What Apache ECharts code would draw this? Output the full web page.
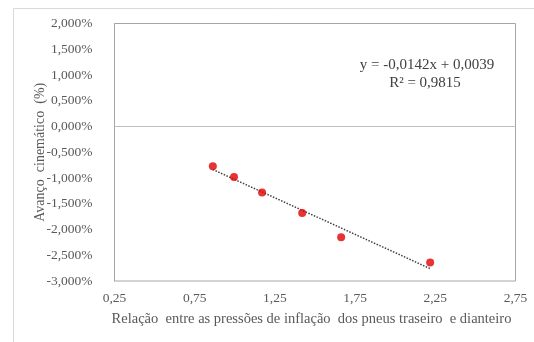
<!DOCTYPE html>
<html>
<head>
<meta charset="utf-8">
<script src="https://cdn.jsdelivr.net/npm/echarts@6/dist/echarts.min.js"></script>
<style>
html,body{margin:0;padding:0;background:#fff;}
#chart{width:534px;height:342px;}
</style>
</head>
<body>
<div id="chart"></div>
<script>
// Data (y in %)
var pressureRatio = [0.863, 0.995, 1.170, 1.420, 1.663, 2.218];
var kinematicAdvance = [-0.77, -0.98, -1.28, -1.68, -2.15, -2.64];
// Trendline coefficients (fraction units, as shown in equation)
var trendSlope = -0.0142;
var trendIntercept = 0.0039;
var trendText = ['y = -0,0142x + 0,0039', 'R² = 0,9815'];
var xTickLabels = ['0,25', '0,75', '1,25', '1,75', '2,25', '2,75'];
var yTickLabels = ['2,000%', '1,500%', '1,000%', '0,500%', '0,000%', '-0,500%', '-1,000%', '-1,500%', '-2,000%', '-2,500%', '-3,000%'];
var xTitle = 'Relação  entre as pressões de inflação  dos pneus traseiro  e dianteiro';
var yTitle = 'Avanço  cinemático  (%)';

var points = pressureRatio.map(function (x, i) { return [x, kinematicAdvance[i]]; });
var xStart = pressureRatio[0], xEnd = pressureRatio[pressureRatio.length - 1];
var trend = [
  [xStart, (trendSlope * xStart + trendIntercept) * 100],
  [xEnd, (trendSlope * xEnd + trendIntercept) * 100]
];

var font = 'Liberation Serif';
var chart = echarts.init(document.getElementById('chart'), null, {renderer: 'canvas'});
chart.setOption({
  animation: false,
  backgroundColor: '#fff',
  grid: {
    left: 114.5, top: 23.5, right: 18.5, bottom: 61,
    show: true, borderColor: '#a6a6a6', borderWidth: 1, containLabel: false
  },
  xAxis: {
    type: 'value', min: 0.25, max: 2.75, interval: 0.25,
    axisLine: {show: true, lineStyle: {color: '#a6a6a6'}},
    axisTick: {show: false},
    splitLine: {show: false},
    axisLabel: {
      margin: 10, color: '#595959', fontFamily: font, fontSize: 13.5,
      formatter: function (v) {
        var k = Math.round((v - 0.25) / 0.5 * 1000) / 1000;
        if (Math.abs(k - Math.round(k)) > 1e-6) return '';
        return xTickLabels[Math.round(k)] || '';
      }
    },
    name: xTitle, nameLocation: 'middle', nameGap: 31, nameMoveOverlap: false,
    nameTextStyle: {color: '#595959', fontFamily: font, fontSize: 14.5, padding: [0, 7, 0, 0]}
  },
  yAxis: {
    type: 'value', min: -3, max: 2, interval: 0.5,
    axisLine: {show: true, lineStyle: {color: '#a6a6a6'}},
    axisTick: {show: false},
    splitLine: {show: false},
    axisLabel: {
      margin: 22, color: '#595959', fontFamily: font, fontSize: 13.5,
      formatter: function (v) {
        var idx = Math.round((2 - v) / 0.5);
        return yTickLabels[idx] || '';
      }
    },
    name: yTitle, nameLocation: 'middle', nameGap: 67, nameMoveOverlap: false,
    nameTextStyle: {color: '#595959', fontFamily: font, fontSize: 14}
  },
  series: [
    {
      type: 'line', data: trend, symbol: 'none', silent: true,
      lineStyle: {color: '#404040', width: 1.5, type: [1.5, 1.5]},
      markLine: {
        silent: true, symbol: 'none', label: {show: false},
        lineStyle: {color: '#bfbfbf', width: 1, type: 'solid'},
        data: [{yAxis: 0}]
      },
      z: 2
    },
    {
      type: 'scatter', data: points, symbol: 'circle', symbolSize: 8,
      itemStyle: {color: '#e00000'}, z: 3
    }
  ],
  graphic: [
    {type: 'rect', shape: {x: 13.5, y: 8.5, width: 560, height: 360}, style: {fill: 'none', stroke: '#d9d9d9', lineWidth: 1}, silent: true, z: -1},
    {type: 'text', x: 427, y: 65, style: {text: trendText[0], fill: '#404040', font: '15px "Liberation Serif"', align: 'center', verticalAlign: 'middle'}},
    {type: 'text', x: 425, y: 83, style: {text: trendText[1], fill: '#404040', font: '15px "Liberation Serif"', align: 'center', verticalAlign: 'middle'}}
  ]
});
</script>
</body>
</html>
